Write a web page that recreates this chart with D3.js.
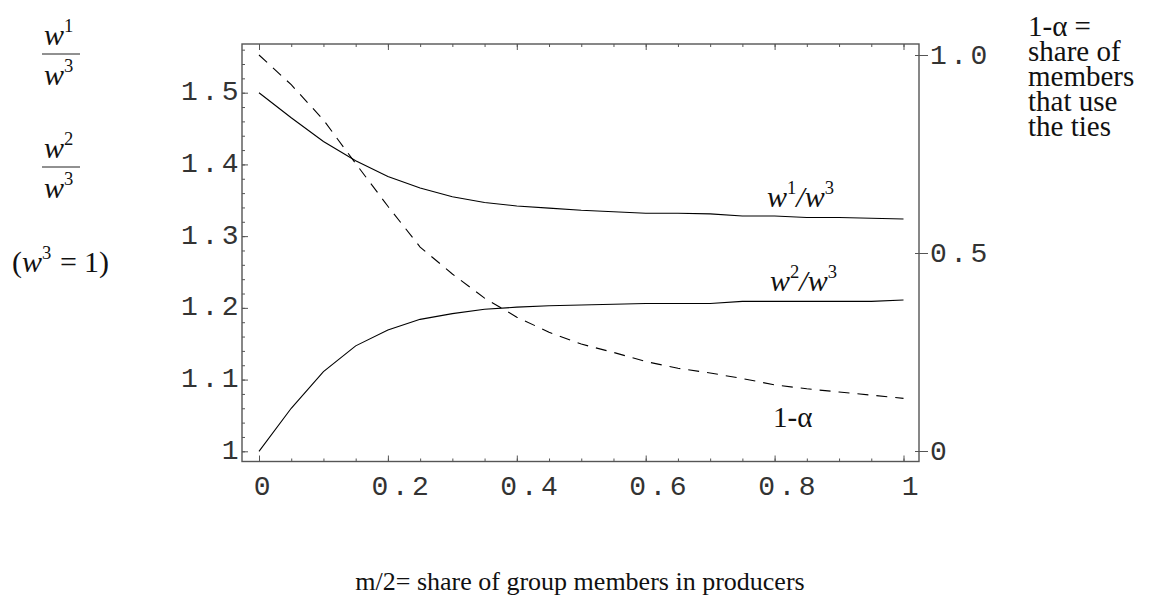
<!DOCTYPE html>
<html>
<head>
<meta charset="utf-8">
<script src="https://cdn.jsdelivr.net/npm/d3@7"></script>
<style>
body { margin: 0; background: #fff; }
.tick text { font-family: "Liberation Mono", monospace; font-size: 28px; letter-spacing: 3.5px; fill: #333; }
.lbl { font-family: "Liberation Serif", "Times New Roman", serif; fill: #111; }
</style>
</head>
<body>
<div id="chart"></div>
<script>
// m/2 values on the x axis
const mShare = [0, 0.05, 0.1, 0.15, 0.2, 0.25, 0.3, 0.35, 0.4, 0.45, 0.5,
                0.55, 0.6, 0.65, 0.7, 0.75, 0.8, 0.85, 0.9, 0.95, 1];
// w1/w3 (left axis)
const wRatio1 = [1.5, 1.465, 1.432, 1.405, 1.383, 1.367, 1.355, 1.347, 1.342, 1.339, 1.336,
                 1.334, 1.332, 1.332, 1.331, 1.328, 1.328, 1.326, 1.326, 1.325, 1.324];
// w2/w3 (left axis)
const wRatio2 = [1.0, 1.06, 1.111, 1.147, 1.169, 1.184, 1.192, 1.198, 1.201, 1.203, 1.204,
                 1.205, 1.206, 1.206, 1.206, 1.209, 1.209, 1.209, 1.209, 1.209, 1.211];
// 1-alpha (right axis)
const tieShare = [1.0, 0.925, 0.836, 0.726, 0.618, 0.515, 0.447, 0.386, 0.338, 0.30, 0.27,
                  0.249, 0.226, 0.209, 0.197, 0.183, 0.167, 0.157, 0.149, 0.141, 0.133];

const leftTicks = [1, 1.1, 1.2, 1.3, 1.4, 1.5];
const leftLabels = ["1", "1.1", "1.2", "1.3", "1.4", "1.5"];
const rightTicks = [0, 0.5, 1.0];
const rightLabels = ["0", "0.5", "1.0"];
const bottomTicks = [0, 0.2, 0.4, 0.6, 0.8, 1];
const bottomLabels = ["0", "0.2", "0.4", "0.6", "0.8", "1"];
const noteLines = ["1-α =", "share of", "members", "that use", "the ties"];

const W = 1153, H = 612;
const frame = {left: 242, right: 919, top: 44, bottom: 461.5};

const svg = d3.select("#chart").append("svg")
    .attr("width", W).attr("height", H);

const x = d3.scaleLinear().domain([0, 1]).range([259, 903.5]);
const yL = d3.scaleLinear().domain([1, 1.5]).range([451.3, 92.7]);
const yR = d3.scaleLinear().domain([0, 1]).range([451, 55]);

// frame
svg.append("rect")
    .attr("x", frame.left).attr("y", frame.top)
    .attr("width", frame.right - frame.left)
    .attr("height", frame.bottom - frame.top)
    .attr("fill", "none").attr("stroke", "#555").attr("stroke-width", 1.4);

const minorX = d3.range(0, 1.0001, 0.05);
const minorY = d3.range(1, 1.561, 0.02);

function clean(g) { g.select(".domain").remove(); g.selectAll("line").attr("stroke", "#555"); }

// bottom axis
svg.append("g").attr("transform", `translate(0,${frame.bottom})`)
    .call(d3.axisBottom(x).tickValues(minorX).tickSize(-3).tickFormat(""))
    .call(clean);
const bx = svg.append("g").attr("transform", `translate(0,${frame.bottom})`)
    .call(d3.axisBottom(x).tickValues(bottomTicks).tickSize(-6)
        .tickFormat((d, i) => bottomLabels[i]))
    .call(clean);
// labels sit a little right of their ticks in the original
bx.selectAll("text").attr("y", 33).attr("dy", 0)
    .attr("dx", (d, i) => bottomLabels[i].length > 1 ? 13.5 : (d === 0 ? 4.5 : 8));

// top axis (ticks only)
svg.append("g").attr("transform", `translate(0,${frame.top})`)
    .call(d3.axisTop(x).tickValues(minorX).tickSize(-3).tickFormat(""))
    .call(clean);
svg.append("g").attr("transform", `translate(0,${frame.top})`)
    .call(d3.axisTop(x).tickValues(bottomTicks).tickSize(-6).tickFormat(""))
    .call(clean);

// left axis
svg.append("g").attr("transform", `translate(${frame.left},0)`)
    .call(d3.axisLeft(yL).tickValues(minorY).tickSize(-3).tickFormat(""))
    .call(clean);
const ly = svg.append("g").attr("transform", `translate(${frame.left},0)`)
    .call(d3.axisLeft(yL).tickValues(leftTicks).tickSize(-6)
        .tickFormat((d, i) => leftLabels[i]))
    .call(clean);
ly.selectAll("text").attr("x", 0).attr("dy", "0.25em");

// right axis
const ry = svg.append("g").attr("transform", `translate(${frame.right},0)`)
    .call(d3.axisRight(yR).tickValues(rightTicks).tickSize(9)
        .tickFormat((d, i) => rightLabels[i]))
    .call(clean);
ry.selectAll("line").attr("x1", -4);
ry.selectAll("text").attr("x", 11).attr("dy", "0.3em");

// curves
const lineL = d3.line().x((d, i) => x(mShare[i])).y(d => yL(d));
const lineR = d3.line().x((d, i) => x(mShare[i])).y(d => yR(d));

svg.append("path").datum(wRatio1).attr("d", lineL)
    .attr("fill", "none").attr("stroke", "#000").attr("stroke-width", 1.1);
svg.append("path").datum(wRatio2).attr("d", lineL)
    .attr("fill", "none").attr("stroke", "#000").attr("stroke-width", 1.1);
svg.append("path").datum(tieShare).attr("d", lineR)
    .attr("fill", "none").attr("stroke", "#000").attr("stroke-width", 1.1)
    .attr("stroke-dasharray", "11,8");

// w^a/w^b style text with superscripts
function wText(g, xPos, yPos, parts, size) {
    const t = g.append("text").attr("class", "lbl")
        .attr("x", xPos).attr("y", yPos).style("font-size", size + "px");
    parts.forEach(p => {
        const s = t.append("tspan").text(p.t);
        if (p.it) s.style("font-style", "italic");
        if (p.sup) s.attr("dy", -size * 0.42).style("font-size", (size * 0.62) + "px");
        if (p.down) s.attr("dy", size * 0.42);
        if (p.x != null) s.attr("x", p.x);
    });
    return t;
}

// curve labels
wText(svg, 767, 207, [{t: "w", it: true}, {t: "1", sup: true}, {t: "/w", it: true, down: true}, {t: "3", sup: true}], 30);
wText(svg, 770, 291, [{t: "w", it: true}, {t: "2", sup: true}, {t: "/w", it: true, down: true}, {t: "3", sup: true}], 30);
svg.append("text").attr("class", "lbl").attr("x", 773).attr("y", 427)
    .style("font-size", "29px").text("1-α");

// left side fractions
function frac(cx, barY, num) {
    const g = svg.append("g");
    wText(g, cx - 17, barY - 9, [{t: "w", it: true}, {t: num, sup: true}], 30);
    g.append("line").attr("x1", cx - 19).attr("x2", cx + 19)
        .attr("y1", barY).attr("y2", barY).attr("stroke", "#222").attr("stroke-width", 1);
    wText(g, cx - 17, barY + 31, [{t: "w", it: true}, {t: "3", sup: true}], 30);
}
frac(61, 54, "1");
frac(61, 167, "2");
wText(svg, 12, 272, [{t: "("}, {t: "w", it: true}, {t: "3", sup: true},
    {t: "=", down: true, x: 60}, {t: "1", x: 84}, {t: ")", x: 99}], 30);

// right side note, one text block
const note = svg.append("text").attr("class", "lbl")
    .style("font-size", "29px");
note.selectAll("tspan").data(noteLines).join("tspan")
    .attr("x", 1028).attr("y", (d, i) => 36 + i * 25)
    .text(d => d);

// x axis title
svg.append("text").attr("class", "lbl")
    .attr("x", 580).attr("y", 590).attr("text-anchor", "middle")
    .style("font-size", "26px")
    .text("m/2= share of group members in producers");
</script>
</body>
</html>
